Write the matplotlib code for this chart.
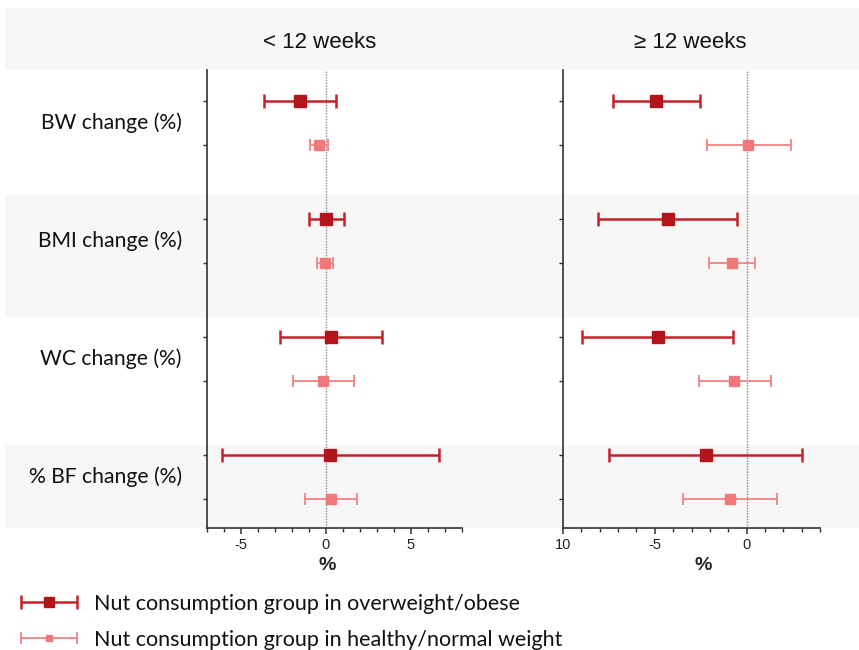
import numpy as np
import matplotlib
matplotlib.use("Agg")
import matplotlib.pyplot as plt
from matplotlib.patches import Rectangle
from matplotlib.lines import Line2D
from matplotlib.ticker import MultipleLocator, FixedLocator, FixedFormatter
from matplotlib.legend_handler import HandlerErrorbar
import matplotlib.transforms as mtransforms

plt.rcParams['axes.unicode_minus'] = False

# ---------------- data ----------------
outcomes = ["BW change (%)", "BMI change (%)", "WC change (%)", "% BF change (%)"]
panel_titles = ["< 12 weeks", "\u2265 12 weeks"]
series_labels = ["Nut consumption group in overweight/obese",
                 "Nut consumption group in healthy/normal weight"]

# < 12 weeks
short_ow_mean = [-1.55, 0.02, 0.31, 0.25]
short_ow_lo   = [-3.66, -1.02, -2.68, -6.12]
short_ow_hi   = [0.56, 1.06, 3.30, 6.65]
short_nw_mean = [-0.43, -0.06, -0.16, 0.29]
short_nw_lo   = [-0.96, -0.51, -1.94, -1.23]
short_nw_hi   = [0.12, 0.39, 1.62, 1.85]

# >= 12 weeks
long_ow_mean = [-4.92, -4.30, -4.85, -2.22]
long_ow_lo   = [-7.25, -8.10, -8.94, -7.48]
long_ow_hi   = [-2.55, -0.53, -0.76, 3.00]
long_nw_mean = [0.09, -0.78, -0.66, -0.91]
long_nw_lo   = [-2.15, -2.02, -2.61, -3.44]
long_nw_hi   = [2.40, 0.45, 1.31, 1.64]

left_ticks = [-5, 0, 5]
left_ticklabels = ["-5", "0", "5"]
right_ticks = [-10, -5, 0]
right_ticklabels = ["10", "-5", "0"]

# ---------------- styling ----------------
W, H = 859, 650
fig = plt.figure(figsize=(W / 100, H / 100), dpi=100)

c_ow = "#c42129"
c_ow_m = "#b3141c"
c_nw = "#f38a8a"
c_nw_m = "#f07878"
band = "#f7f7f7"

def fx(px):
    return px / W

def fy(py):
    return 1 - py / H

# background bands (figure level)
for top, bot in [(8, 70), (195, 317), (445, 528)]:
    fig.add_artist(Rectangle((fx(5), fy(bot)), 1 - fx(5), (bot - top) / H,
                             transform=fig.transFigure, facecolor=band,
                             edgecolor="none", zorder=0))

group_gap = 2.68
y_ow = np.arange(len(outcomes)) * group_gap
y_nw = y_ow + 1.0

ax1 = fig.add_axes([fx(207), fy(528), fx(462) - fx(207), (528 - 70) / H])
ax2 = fig.add_axes([fx(563), fy(528), fx(820) - fx(563), (528 - 70) / H])

panels = [
    (ax1, short_ow_mean, short_ow_lo, short_ow_hi, short_nw_mean, short_nw_lo, short_nw_hi,
     (-7, 8), left_ticks, left_ticklabels, 0.47),
    (ax2, long_ow_mean, long_ow_lo, long_ow_hi, long_nw_mean, long_nw_lo, long_nw_hi,
     (-10, 4), right_ticks, right_ticklabels, 0.545),
]

handles = []
for (ax, om, olo, ohi, nm, nlo, nhi, xlim, ticks, tlabels, xlab_x) in panels:
    ax.patch.set_alpha(0)
    om, olo, ohi = map(np.array, (om, olo, ohi))
    nm, nlo, nhi = map(np.array, (nm, nlo, nhi))
    ax.axvline(0, color="#888888", lw=1.0, ls=(0, (1, 1)), zorder=1)
    h1 = ax.errorbar(om, y_ow, xerr=[om - olo, ohi - om], fmt="s", color=c_ow,
                     mfc=c_ow_m, mec=c_ow_m, ms=9, elinewidth=1.8, capsize=5,
                     capthick=1.8, zorder=3)
    h2 = ax.errorbar(nm, y_nw, xerr=[nm - nlo, nhi - nm], fmt="s", color=c_nw,
                     mfc=c_nw_m, mec=c_nw_m, ms=6.5, elinewidth=1.4, capsize=4,
                     capthick=1.4, zorder=3)
    handles = [h1, h2]
    ax.set_xlim(*xlim)
    ax.set_ylim(9.7, -0.705)
    ax.xaxis.set_major_locator(FixedLocator(ticks))
    ax.xaxis.set_major_formatter(FixedFormatter(tlabels))
    ax.xaxis.set_minor_locator(MultipleLocator(1))
    ax.set_yticks(np.concatenate([y_ow, y_nw]))
    ax.set_yticklabels([])
    for s in ["top", "right"]:
        ax.spines[s].set_visible(False)
    for s in ["left", "bottom"]:
        ax.spines[s].set_color("#333333")
        ax.spines[s].set_linewidth(1.2)
    ax.tick_params(axis="x", which="major", length=4.5, width=1.1, color="#333333",
                   labelsize=10.5, pad=3)
    ax.tick_params(axis="x", which="minor", length=3, width=1.0, color="#333333")
    ax.tick_params(axis="y", length=3, width=1.0, color="#333333")
    for lab in ax.get_xticklabels():
        lab.set_family(["Liberation Sans", "DejaVu Sans"])
        lab.set_color("#222222")
    ax.set_xlabel("%", fontsize=14, family=["Liberation Sans", "DejaVu Sans"],
                  fontweight="bold", color="#222222")
    ax.xaxis.set_label_coords(xlab_x, -0.063)

# panel titles
title_font = ["Liberation Sans Narrow", "Liberation Sans", "DejaVu Sans"]
fig.text(fx(320), fy(42), panel_titles[0], ha="center", va="center", fontsize=16,
         family=title_font, color="#111111")
fig.text(fx(690), fy(42), panel_titles[1], ha="center", va="center", fontsize=16,
         family=title_font, color="#111111")

# row labels
tr = mtransforms.blended_transform_factory(fig.transFigure, ax1.transData)
for i, name in enumerate(outcomes):
    fig.text(fx(182), (y_ow[i] + y_nw[i]) / 2, name, transform=tr, ha="right",
             va="center", fontsize=15.2, family=["Lato", "DejaVu Sans"], color="#111111")

# legend
leg = fig.legend(handles, series_labels, loc="upper left",
                 bbox_to_anchor=(fx(20), fy(594)), frameon=False,
                 prop={"family": ["Lato", "DejaVu Sans"], "size": 15.5},
                 handlelength=2.7, handletextpad=0.74, labelspacing=0.73,
                 borderpad=0, borderaxespad=0,
                 handler_map={h: HandlerErrorbar(xerr_size=1.3) for h in handles})
for t in leg.get_texts():
    t.set_color("#111111")
for ln in leg.findobj(Line2D):
    if ln.get_marker() == "s":
        ln.set_markersize(7 if ln.get_markersize() > 8 else 5)
    elif ln.get_linewidth() > 1.6:
        ln.set_linewidth(1.5)

fig.savefig("out.png", dpi=100, facecolor="white")
